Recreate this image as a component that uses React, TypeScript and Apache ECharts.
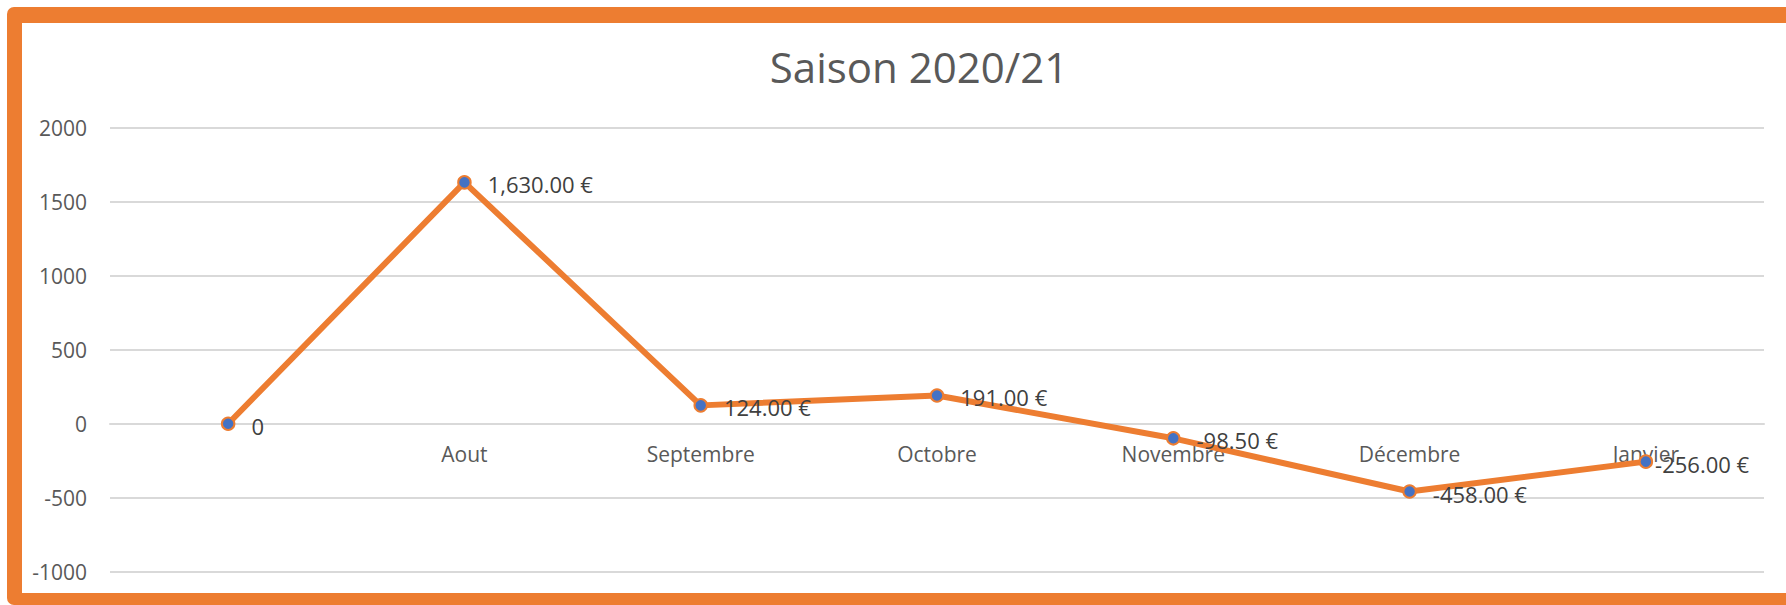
import React, { useEffect, useRef } from "react";
import * as echarts from "echarts";

const categories = ["", "Aout", "Septembre", "Octobre", "Novembre", "Décembre", "Janvier"];
const values = [0, 1630, 124, 191, -98.5, -458, -256];
const yMin = -1000;
const yMax = 2000;
const yStep = 500;
const titleText = "Saison 2020/21";

const FONT = "'Open Sans', 'Noto Sans', sans-serif";
const ORANGE = "#ED7D31";
const BLUE = "#4472C4";

const GRID_TOP = 127.6;
const GRID_BOTTOM = 33.2;
const CHART_H = 605;

function formatEuro(v: number): string {
  if (v === 0) return "0";
  const s = Math.abs(v).toLocaleString("en-US", { minimumFractionDigits: 2, maximumFractionDigits: 2 });
  return (v < 0 ? "-" : "") + s + " €";
}

export default function App() {
  const ref = useRef<HTMLDivElement>(null);
  useEffect(() => {
    if (!ref.current) return;
    const chart = echarts.init(ref.current, undefined, { renderer: "svg" });
    const gridH = CHART_H - GRID_TOP - GRID_BOTTOM;
    const zeroOffset = -((0 - yMin) / (yMax - yMin)) * gridH;
    const lastIdx = values.length - 1;
    const seriesData = values.map((v, i) =>
      i === lastIdx ? { value: v, label: { distance: 2 } } : v
    );
    chart.setOption({
      animation: false,
      backgroundColor: "#ffffff",
      title: {
        text: titleText,
        left: 919,
        top: 45,
        padding: 0,
        textAlign: "center",
        textStyle: { fontFamily: FONT, fontSize: 42, fontWeight: "normal", color: "#595959" },
      },
      graphic: {
        elements: [
          {
            type: "rect",
            z: -100,
            silent: true,
            shape: { x: 7, y: 7, width: 1820, height: 598, r: [7, 0, 0, 7] },
            style: { fill: ORANGE },
          },
          {
            type: "rect",
            z: -99,
            silent: true,
            shape: { x: 22, y: 23, width: 1820, height: 570 },
            style: { fill: "#ffffff" },
          },
        ],
      },
      grid: { left: 110, right: 22, top: GRID_TOP, bottom: GRID_BOTTOM, containLabel: false },
      xAxis: {
        type: "category",
        data: categories,
        boundaryGap: true,
        position: "bottom",
        offset: zeroOffset,
        axisLine: { show: true, onZero: false, lineStyle: { color: "#D9D9D9", width: 2 } },
        axisTick: { show: false },
        axisLabel: { margin: 20, fontFamily: FONT, fontSize: 21, color: "#595959" },
        splitLine: { show: false },
      },
      yAxis: {
        type: "value",
        min: yMin,
        max: yMax,
        interval: yStep,
        axisLine: { show: false },
        axisTick: { show: false },
        axisLabel: {
          margin: 23,
          fontFamily: FONT,
          fontSize: 21,
          color: "#595959",
          formatter: (v: number) => String(v),
        },
        splitLine: { show: true, lineStyle: { color: "#D9D9D9", width: 2 } },
      },
      series: [
        {
          type: "line",
          data: seriesData,
          symbol: "circle",
          symbolSize: 12.5,
          lineStyle: { color: ORANGE, width: 6 },
          itemStyle: { color: BLUE, borderColor: ORANGE, borderWidth: 2 },
          label: {
            show: true,
            position: "right",
            distance: 16,
            offset: [0, 2],
            fontFamily: FONT,
            fontSize: 22,
            color: "#404040",
            formatter: (p: any) => formatEuro(p.value as number),
          },
          z: 3,
        },
      ],
    });
    return () => chart.dispose();
  }, []);
  return (
    <div
      ref={ref}
      style={{ position: "fixed", left: 0, top: 0, width: 1786, height: 605, background: "#fff" }}
    />
  );
}
